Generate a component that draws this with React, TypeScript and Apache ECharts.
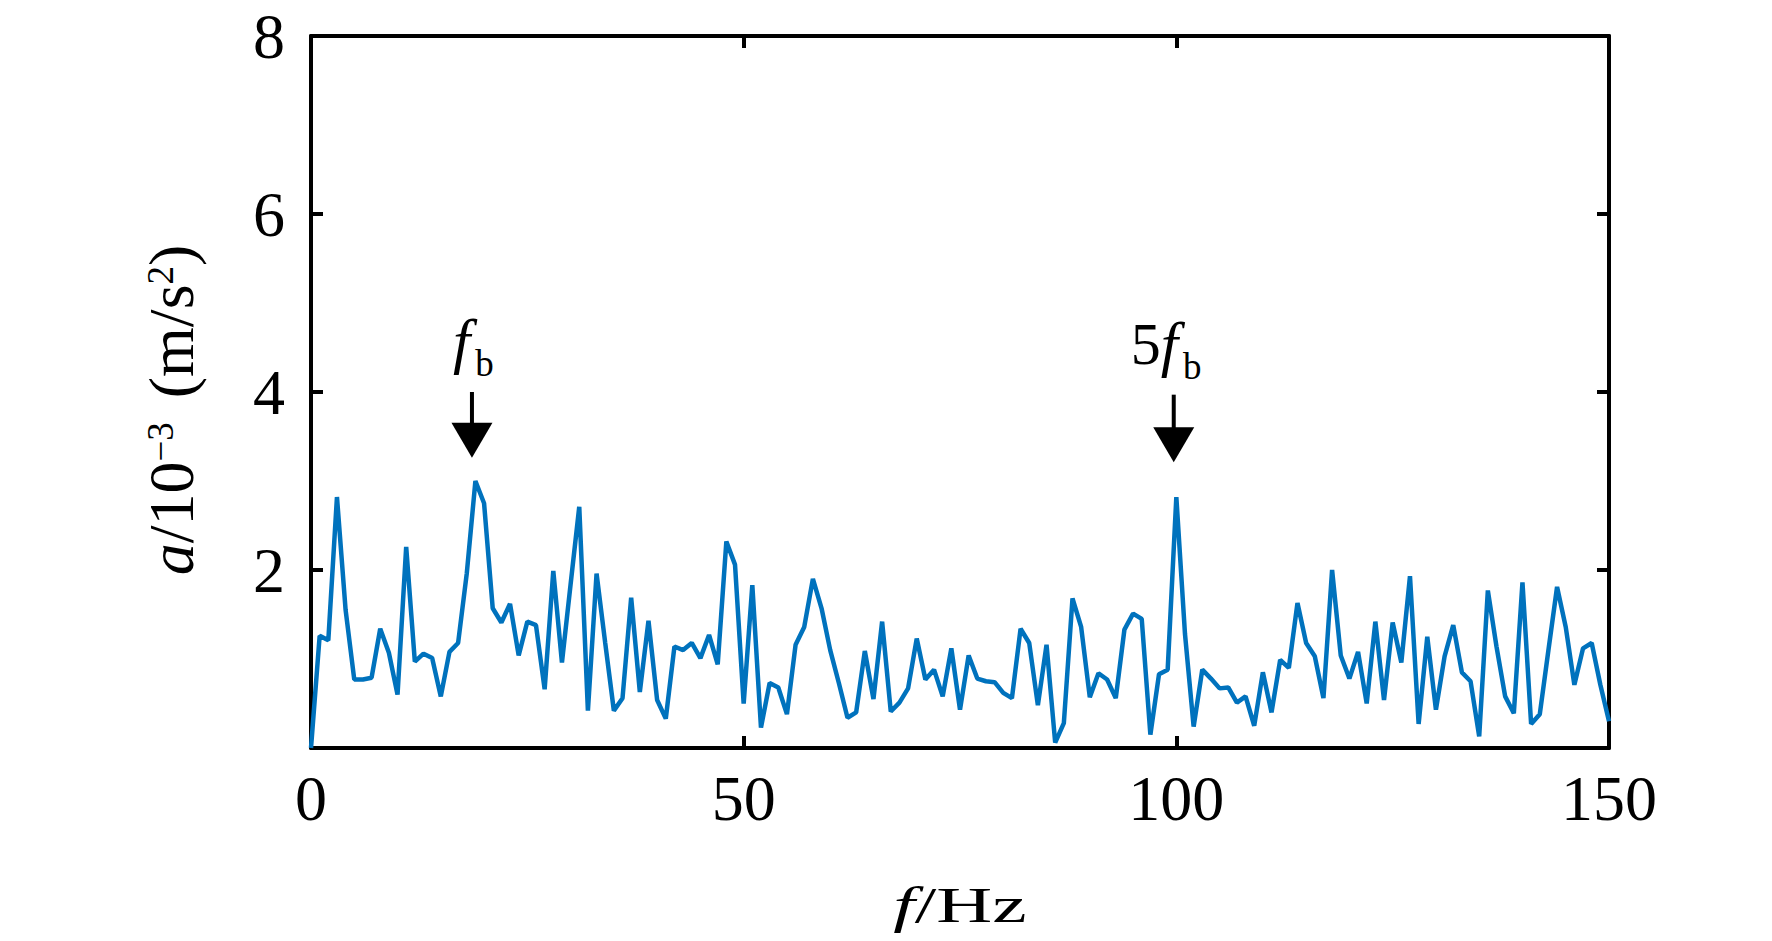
import React, { useEffect, useRef } from 'react';
import * as echarts from 'echarts';

// ---- data ----
const FREQ_HZ = [
  0, 1, 2, 3, 4, 5, 6, 7, 8, 9, 10, 11, 12, 13, 14, 15, 16, 17, 18, 19, 20,
  21, 22, 23, 24, 25, 26, 27, 28, 29, 30, 31, 32, 33, 34, 35, 36, 37, 38, 39, 40,
  41, 42, 43, 44, 45, 46, 47, 48, 49, 50, 51, 52, 53, 54, 55, 56, 57, 58, 59, 60,
  61, 62, 63, 64, 65, 66, 67, 68, 69, 70, 71, 72, 73, 74, 75, 76, 77, 78, 79, 80,
  81, 82, 83, 84, 85, 86, 87, 88, 89, 90, 91, 92, 93, 94, 95, 96, 97, 98, 99, 100,
  101, 102, 103, 104, 105, 106, 107, 108, 109, 110, 111, 112, 113, 114, 115, 116, 117, 118, 119, 120,
  121, 122, 123, 124, 125, 126, 127, 128, 129, 130, 131, 132, 133, 134, 135, 136, 137, 138, 139, 140,
  141, 142, 143, 144, 145, 146, 147, 148, 149, 150,
];

const ACCEL = [
  0.0, 1.26, 1.21, 2.82, 1.55, 0.77, 0.77, 0.79, 1.34, 1.07, 0.6,
  2.26, 0.97, 1.06, 1.01, 0.58, 1.08, 1.18, 1.96, 3.0, 2.75,
  1.57, 1.41, 1.62, 1.04, 1.42, 1.38, 0.66, 1.99, 0.96, 1.84,
  2.71, 0.42, 1.96, 1.18, 0.42, 0.56, 1.69, 0.63, 1.43, 0.54,
  0.33, 1.14, 1.1, 1.18, 1.01, 1.27, 0.94, 2.32, 2.06, 0.5,
  1.83, 0.23, 0.73, 0.68, 0.38, 1.16, 1.36, 1.9, 1.57, 1.1,
  0.73, 0.34, 0.4, 1.09, 0.55, 1.42, 0.41, 0.51, 0.67, 1.23,
  0.77, 0.88, 0.58, 1.12, 0.43, 1.04, 0.78, 0.75, 0.74, 0.62,
  0.56, 1.34, 1.18, 0.48, 1.16, 0.06, 0.28, 1.68, 1.36, 0.57,
  0.84, 0.77, 0.56, 1.33, 1.51, 1.45, 0.15, 0.83, 0.88, 2.82,
  1.28, 0.24, 0.88, 0.78, 0.67, 0.68, 0.51, 0.58, 0.25, 0.85,
  0.4, 0.99, 0.9, 1.63, 1.18, 1.03, 0.56, 2.0, 1.04, 0.78,
  1.08, 0.5, 1.42, 0.54, 1.41, 0.96, 1.93, 0.27, 1.25, 0.43,
  1.03, 1.38, 0.85, 0.75, 0.13, 1.77, 1.14, 0.58, 0.39, 1.86,
  0.27, 0.38, 1.1, 1.81, 1.36, 0.71, 1.12, 1.18, 0.71, 0.3,
];

const X_MIN = 0;
const X_MAX = 150;
const X_STEP = 50;
const Y_MIN = 0;
const Y_MAX = 8;
const Y_STEP = 2;

// annotation arrows: frequency, arrow-shaft top value, arrow tip value, label prefix
const ANNOT_HZ = [18.6, 99.7];
const ANNOT_TOP = [4.0, 3.97];
const ANNOT_TIP = [3.26, 3.21];
const ANNOT_PREFIX = ['', '5'];

const SERIF = '"Liberation Serif", "Times New Roman", serif';
const CENTRAL = 0.3375; // central baseline offset (em) for Liberation Serif

let measureCtx: CanvasRenderingContext2D | null = null;
function measure(text: string, size: number, italic?: boolean) {
  if (!measureCtx) measureCtx = document.createElement('canvas').getContext('2d');
  measureCtx!.font = `${italic ? 'italic ' : ''}${size}px ${SERIF}`;
  return measureCtx!.measureText(text).width;
}

type Seg = { text: string; size: number; italic?: boolean; rise?: number; gap?: number };

function runWidth(segs: Seg[]) {
  let w = 0;
  segs.forEach((s) => {
    w += (s.gap || 0) + measure(s.text, s.size, s.italic);
  });
  return w;
}

function buildRun(segs: Seg[], x0: number, baseline: number) {
  const els: any[] = [];
  let cx = x0;
  segs.forEach((s) => {
    cx += s.gap || 0;
    els.push({
      type: 'text',
      x: cx,
      y: baseline - (s.rise || 0) - CENTRAL * s.size,
      silent: true,
      style: {
        text: s.text,
        fontSize: s.size,
        fontFamily: SERIF,
        fontStyle: s.italic ? 'italic' : 'normal',
        fill: '#000',
        align: 'left',
        verticalAlign: 'middle',
        textAlign: 'left',
        textVerticalAlign: 'middle',
      },
    });
    cx += measure(s.text, s.size, s.italic);
  });
  return els;
}

const axisCommon = {
  axisLine: { show: true, onZero: false, lineStyle: { color: '#000', width: 4 } },
  axisTick: { show: true, inside: true, length: 12, lineStyle: { color: '#000', width: 4 } },
  splitLine: { show: false },
};

export default function App() {
  const ref = useRef<HTMLDivElement>(null);

  useEffect(() => {
    if (!ref.current) return;
    const chart = echarts.init(ref.current, null, { renderer: 'svg' });

    const option: any = {
      animation: false,
      backgroundColor: '#fff',
      grid: { left: 311, right: 163, top: 36, bottom: 193 },
      xAxis: [
        {
          type: 'value',
          min: X_MIN,
          max: X_MAX,
          interval: X_STEP,
          ...axisCommon,
          axisLabel: { margin: 18, fontSize: 64, fontFamily: SERIF, color: '#000' },
        },
        {
          type: 'value',
          position: 'top',
          min: X_MIN,
          max: X_MAX,
          interval: X_STEP,
          ...axisCommon,
          axisLabel: { show: false },
        },
      ],
      yAxis: [
        {
          type: 'value',
          min: Y_MIN,
          max: Y_MAX,
          interval: Y_STEP,
          ...axisCommon,
          axisLabel: {
            margin: 26,
            fontSize: 64,
            fontFamily: SERIF,
            color: '#000',
            showMinLabel: false,
          },
        },
        {
          type: 'value',
          position: 'right',
          min: Y_MIN,
          max: Y_MAX,
          interval: Y_STEP,
          ...axisCommon,
          axisLabel: { show: false },
        },
      ],
      series: [
        {
          type: 'line',
          xAxisIndex: 0,
          yAxisIndex: 0,
          data: FREQ_HZ.map((f, i) => [f, ACCEL[i]]),
          symbol: 'none',
          showSymbol: false,
          clip: false,
          lineStyle: { color: '#0072BD', width: 4.5 },
        },
      ],
    };
    chart.setOption(option);

    const graphics: any[] = [];

    // annotations
    ANNOT_HZ.forEach((hz, i) => {
      const top = chart.convertToPixel({ xAxisIndex: 0, yAxisIndex: 0 }, [hz, ANNOT_TOP[i]]) as number[];
      const tip = chart.convertToPixel({ xAxisIndex: 0, yAxisIndex: 0 }, [hz, ANNOT_TIP[i]]) as number[];
      const ax = top[0];
      const headH = 35;
      const headW = 41;
      graphics.push({
        type: 'line',
        silent: true,
        shape: { x1: ax, y1: top[1], x2: ax, y2: tip[1] - headH + 2 },
        style: { stroke: '#000', lineWidth: 4 },
      });
      graphics.push({
        type: 'polygon',
        silent: true,
        shape: {
          points: [
            [ax - headW / 2, tip[1] - headH],
            [ax + headW / 2, tip[1] - headH],
            [ax, tip[1]],
          ],
        },
        style: { fill: '#000' },
      });
      const baseline = top[1] - 30;
      const prefix = ANNOT_PREFIX[i];
      const fX = ax - 19 + (prefix ? 6 : 0);
      if (prefix) {
        const pw = measure(prefix, 60);
        graphics.push(...buildRun([{ text: prefix, size: 60 }], fX - pw, baseline));
      }
      const segsMain: Seg[] = [
        { text: 'f', size: 62, italic: true },
        { text: 'b', size: 37, rise: -14, gap: 5 },
      ];
      graphics.push(...buildRun(segsMain, fX, baseline));
    });

    // y axis name: a/10^-3 (m/s^2), rotated
    const ySegs: Seg[] = [
      { text: 'a', size: 64, italic: true },
      { text: '/10', size: 64 },
      { text: '\u22123', size: 37, rise: 20 },
      { text: ' (m/s', size: 64, gap: 8 },
      { text: '2', size: 37, rise: 20 },
      { text: ')', size: 64 },
    ];
    const yW = runWidth(ySegs);
    graphics.push({
      type: 'group',
      x: 193,
      y: 410,
      rotation: Math.PI / 2,
      children: buildRun(ySegs, -yW / 2, 0),
    });

    // x axis name: f/Hz
    const xSegs: Seg[] = [
      { text: 'f', size: 50, italic: true },
      { text: '/Hz', size: 50 },
    ];
    const xW = runWidth(xSegs);
    graphics.push({
      type: 'group',
      x: 960,
      y: 922,
      scaleX: 1.55,
      children: buildRun(xSegs, -xW / 2, 0),
    });

    chart.setOption({ graphic: graphics });

    return () => {
      chart.dispose();
    };
  }, []);

  return (
    <div
      ref={ref}
      style={{ position: 'fixed', left: 0, top: 0, width: 1772, height: 941, background: '#fff' }}
    />
  );
}
